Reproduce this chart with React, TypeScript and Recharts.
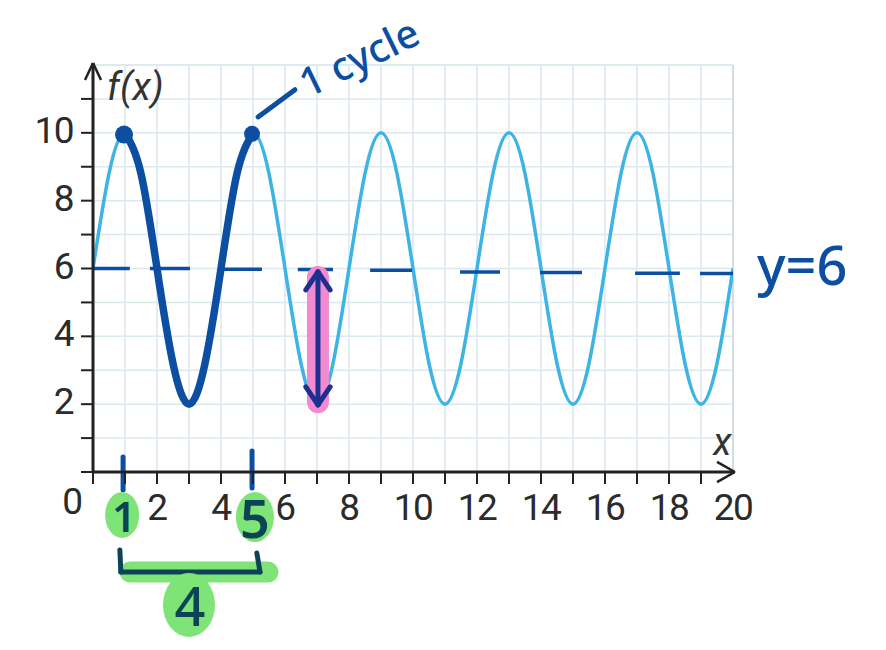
import { ComposedChart, Line, XAxis, YAxis, CartesianGrid, ReferenceLine, ReferenceDot } from "recharts";

// x positions sampled every half unit
const xValues = [
  0, 0.5, 1, 1.5, 2, 2.5, 3, 3.5, 4, 4.5, 5, 5.5, 6, 6.5, 7, 7.5, 8, 8.5, 9, 9.5, 10,
  10.5, 11, 11.5, 12, 12.5, 13, 13.5, 14, 14.5, 15, 15.5, 16, 16.5, 17, 17.5, 18, 18.5, 19, 19.5, 20,
];

// f(x)
const curveValues = [
  6, 8.8, 10, 8.8, 6, 3.2, 2, 3.2,
  6, 8.8, 10, 8.8, 6, 3.2, 2, 3.2,
  6, 8.8, 10, 8.8, 6, 3.2, 2, 3.2,
  6, 8.8, 10, 8.8, 6, 3.2, 2, 3.2,
  6, 8.8, 10, 8.8, 6, 3.2, 2, 3.2,
  6,
];

// the hand-traced single cycle, x = 1 to 5
const tracedValues = [
  null, null, 10, 8.8, 6, 3.2, 2, 3.2, 6, 8.8, 10,
  null, null, null, null, null, null, null, null, null, null,
  null, null, null, null, null, null, null, null, null, null,
  null, null, null, null, null, null, null, null, null, null,
];

const xTicks = [0, 1, 2, 3, 4, 5, 6, 7, 8, 9, 10, 11, 12, 13, 14, 15, 16, 17, 18, 19];
const yTicks = [0, 1, 2, 3, 4, 5, 6, 7, 8, 9, 10, 11];

// hand drawn dashes of the midline y = 6: [xStart, yStart, xEnd, yEnd]
const midlineDashes = [
  [0, 6, 1.15, 6],
  [1.78, 6, 3.03, 6],
  [4.03, 5.98, 5.28, 5.98],
  [6.4, 5.97, 7.5, 5.97],
  [8.66, 5.95, 9.97, 5.95],
  [11.47, 5.9, 12.72, 5.9],
  [13.97, 5.88, 15.28, 5.88],
  [16.94, 5.86, 18.34, 5.86],
  [18.97, 5.85, 20, 5.85],
];

const data = xValues.map((x, i) => ({ x, f: curveValues[i], traced: tracedValues[i] }));

const NAVY = "#0b4ea2";
const TEAL = "#0c4455";
const GREEN = "#7fe478";
const GRID = "#dbe8ee";
const AXIS = "#222";
const LABEL_FONT = "Roboto, 'Open Sans', sans-serif";
const HAND_FONT = "'Noto Sans', sans-serif";

const XTick = (props: any) => {
  const { x, y, payload } = props;
  const v = payload.value;
  if (v % 2 !== 0) return <g />;
  const dx = v === 0 ? -21 : 0;
  const dy = v === 0 ? -6 : 0;
  return (
    <text x={x + dx} y={y + dy} dy="0.71em" textAnchor="middle" fontSize={37} fill="#2b2b2b"
      fontFamily={LABEL_FONT} letterSpacing={-1.5}>
      {v}
    </text>
  );
};

const YTick = (props: any) => {
  const { x, y, payload } = props;
  const v = payload.value;
  if (v === 0 || v % 2 !== 0) return <g />;
  return (
    <text x={x} y={y - 3} dy="0.355em" textAnchor="end" fontSize={37} fill="#2b2b2b"
      fontFamily={LABEL_FONT} letterSpacing={-1.5}>
      {v}
    </text>
  );
};

const seg = (x1: number, y1: number, x2: number, y2: number) => [{ x: x1, y: y1 }, { x: x2, y: y2 }];

const textShape = (value: string, opts: any) => (p: any) => (
  <text
    x={p.cx}
    y={p.cy}
    fontSize={opts.size}
    fill={opts.fill}
    fontFamily={opts.font}
    fontStyle={opts.italic ? "italic" : "normal"}
    fontWeight={opts.weight || 400}
    textAnchor={opts.anchor || "start"}
    dominantBaseline={opts.baseline || "alphabetic"}
    transform={opts.rotate ? `rotate(${opts.rotate} ${p.cx} ${p.cy})` : undefined}
  >
    {value}
  </text>
);

const ellipseShape = (rx: number, ry: number) => (p: any) => (
  <ellipse cx={p.cx} cy={p.cy} rx={rx} ry={ry} fill={GREEN} />
);

export default function App() {
  return (
    <div style={{ width: 878, height: 642 }}>
      <ComposedChart width={878} height={642} data={data} margin={{ top: 57, right: 153, bottom: 138, left: 0 }}>
        <CartesianGrid stroke={GRID} strokeWidth={1.5} />
        <ReferenceLine y={12} stroke={GRID} strokeWidth={1.5} />
        <ReferenceLine x={20} stroke="#d3dde2" strokeWidth={2} />
        <XAxis
          dataKey="x"
          type="number"
          domain={[0, 20]}
          ticks={xTicks}
          interval={0}
          height={40}
          tickSize={12}
          tickMargin={10}
          axisLine={{ stroke: AXIS, strokeWidth: 3 }}
          tickLine={{ stroke: AXIS, strokeWidth: 2 }}
          tick={<XTick />}
          allowDataOverflow
        />
        <YAxis
          type="number"
          domain={[0, 12]}
          ticks={yTicks}
          interval={0}
          width={85}
          tickSize={12}
          tickMargin={8}
          axisLine={{ stroke: AXIS, strokeWidth: 3 }}
          tickLine={{ stroke: AXIS, strokeWidth: 2 }}
          tick={<YTick />}
          allowDataOverflow
        />

        {/* axis arrow heads */}
        <ReferenceLine segment={seg(0, 12, 0, 12.06)} stroke={AXIS} strokeWidth={3} ifOverflow="visible" />
        <ReferenceLine segment={seg(-0.25, 11.56, 0, 12.06)} stroke={AXIS} strokeWidth={2.5} ifOverflow="visible" />
        <ReferenceLine segment={seg(0.25, 11.56, 0, 12.06)} stroke={AXIS} strokeWidth={2.5} ifOverflow="visible" />
        <ReferenceLine segment={seg(19.5, 0.3, 20.06, 0)} stroke={AXIS} strokeWidth={2.5} ifOverflow="visible" />
        <ReferenceLine segment={seg(19.5, -0.3, 20.06, 0)} stroke={AXIS} strokeWidth={2.5} ifOverflow="visible" />

        {/* axis labels */}
        <ReferenceDot x={0.44} y={10.97} ifOverflow="visible"
          shape={textShape("f(x)", { size: 38, fill: "#333", font: LABEL_FONT, italic: true })} />
        <ReferenceDot x={19.38} y={0.5} ifOverflow="visible"
          shape={textShape("x", { size: 38, fill: "#333", font: LABEL_FONT, italic: true })} />
        <ReferenceDot x={20} y={0} ifOverflow="visible"
          shape={(p: any) => (
            <text x={p.cx} y={p.cy + 22} dy="0.71em" textAnchor="middle" fontSize={37} fill="#2b2b2b"
              fontFamily={LABEL_FONT} letterSpacing={-1.5}>20</text>
          )} />

        <Line type="natural" dataKey="f" stroke="#3cb4e5" strokeWidth={3.5} dot={false} activeDot={false}
          isAnimationActive={false} />
        <Line type="natural" dataKey="traced" stroke={NAVY} strokeWidth={7.5} strokeLinecap="round" dot={false}
          activeDot={false} isAnimationActive={false} />

        {/* midline y = 6 */}
        {midlineDashes.map((d, i) => (
          <ReferenceLine key={i} segment={seg(d[0], d[1], d[2], d[3])} stroke={NAVY} strokeWidth={3.5}
            ifOverflow="visible" />
        ))}
        <ReferenceDot x={20.75} y={5.52} ifOverflow="visible"
          shape={textShape("y=6", { size: 54, fill: NAVY, font: HAND_FONT, weight: 500 })} />

        {/* amplitude marker at x = 7 */}
        <ReferenceLine segment={seg(7.03, 5.75, 7.03, 2.06)} stroke="#f28ad0" strokeWidth={22}
          strokeLinecap="round" ifOverflow="visible" />
        <ReferenceLine segment={seg(7.03, 5.9, 7.03, 1.98)} stroke="#1d2f8f" strokeWidth={5}
          strokeLinecap="round" ifOverflow="visible" />
        <ReferenceLine segment={seg(6.65, 5.37, 7.03, 5.9)} stroke="#1d2f8f" strokeWidth={5}
          strokeLinecap="round" ifOverflow="visible" />
        <ReferenceLine segment={seg(7.41, 5.37, 7.03, 5.9)} stroke="#1d2f8f" strokeWidth={5}
          strokeLinecap="round" ifOverflow="visible" />
        <ReferenceLine segment={seg(6.65, 2.51, 7.03, 1.98)} stroke="#1d2f8f" strokeWidth={5}
          strokeLinecap="round" ifOverflow="visible" />
        <ReferenceLine segment={seg(7.41, 2.51, 7.03, 1.98)} stroke="#1d2f8f" strokeWidth={5}
          strokeLinecap="round" ifOverflow="visible" />

        {/* one cycle annotation */}
        <ReferenceDot x={0.97} y={9.95} r={9} fill={NAVY} stroke="none" ifOverflow="visible" />
        <ReferenceDot x={4.97} y={9.97} r={8} fill={NAVY} stroke="none" ifOverflow="visible" />
        <ReferenceLine segment={seg(5.16, 10.47, 6.31, 11.27)} stroke={NAVY} strokeWidth={5}
          strokeLinecap="round" ifOverflow="visible" />
        <ReferenceDot x={6.72} y={11.02} ifOverflow="visible"
          shape={textShape("1 cycle", { size: 40, fill: NAVY, font: HAND_FONT, weight: 500, rotate: -26 })} />

        {/* period markings below the axis */}
        <ReferenceDot x={0.91} y={-1.27} ifOverflow="visible" shape={ellipseShape(17, 23)} />
        <ReferenceDot x={5.06} y={-1.33} ifOverflow="visible" shape={ellipseShape(19, 25)} />
        <ReferenceLine segment={seg(1.16, -2.95, 5.47, -2.95)} stroke={GREEN} strokeWidth={21}
          strokeLinecap="round" ifOverflow="visible" />
        <ReferenceDot x={3.0} y={-3.92} ifOverflow="visible" shape={ellipseShape(26, 32)} />

        <ReferenceLine segment={seg(0.94, 0.44, 0.94, -0.53)} stroke={NAVY} strokeWidth={5}
          strokeLinecap="round" ifOverflow="visible" />
        <ReferenceLine segment={seg(4.97, 0.62, 4.97, -0.47)} stroke={NAVY} strokeWidth={5}
          strokeLinecap="round" ifOverflow="visible" />

        <ReferenceDot x={0.97} y={-1.27} ifOverflow="visible"
          shape={textShape("1", { size: 42, fill: TEAL, font: HAND_FONT, weight: 600, anchor: "middle", baseline: "central" })} />
        <ReferenceDot x={5.06} y={-1.33} ifOverflow="visible"
          shape={textShape("5", { size: 52, fill: TEAL, font: HAND_FONT, weight: 600, anchor: "middle", baseline: "central" })} />
        <ReferenceDot x={3.03} y={-3.92} ifOverflow="visible"
          shape={textShape("4", { size: 54, fill: TEAL, font: HAND_FONT, weight: 500, anchor: "middle", baseline: "central" })} />

        <ReferenceLine segment={seg(0.84, -2.3, 0.87, -2.95)} stroke={TEAL} strokeWidth={5}
          strokeLinecap="round" ifOverflow="visible" />
        <ReferenceLine segment={seg(0.87, -2.95, 5.22, -2.95)} stroke={TEAL} strokeWidth={5}
          strokeLinecap="round" ifOverflow="visible" />
        <ReferenceLine segment={seg(5.22, -2.95, 5.12, -2.39)} stroke={TEAL} strokeWidth={5}
          strokeLinecap="round" ifOverflow="visible" />
      </ComposedChart>
    </div>
  );
}
